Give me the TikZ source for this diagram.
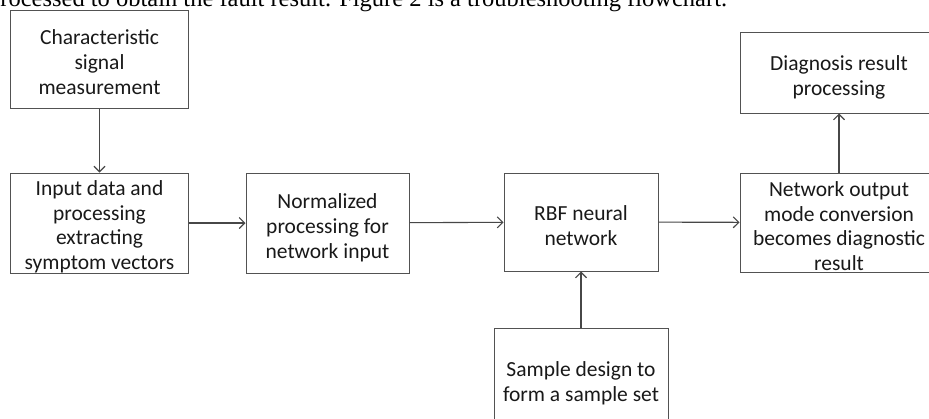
\documentclass[tikz,border=0pt]{standalone}
\usepackage{fontspec}
\setmainfont{Carlito}
\newfontfamily\capserif{Liberation Serif}
\usetikzlibrary{arrows.meta}
\newcommand\tstr{\rule{0pt}{27pt}}
\newcommand\tstrb{\rule{0pt}{22pt}}
\newcommand\bstr{\rule[-6pt]{0pt}{6pt}}
\begin{document}
\begin{tikzpicture}[x=1pt,y=-1pt,
  box/.style={draw=black!68, line width=1pt, fill=white, align=center,
    inner sep=0pt, font=\fontsize{21.5}{25}\selectfont, text=black!90},
  tight/.style={font=\fontsize{21.5}{24.5}\selectfont},
  conn/.style={draw=black!72, line width=1.1pt,
    -{Straight Barb[length=5.5pt,width=11pt,line width=1.1pt]}}]
\useasboundingbox (0,0) rectangle (929,418);
\clip (0,0) rectangle (929,418);
\fill[white] (0,0) rectangle (929,418);
\node[anchor=base west, inner sep=0pt, font=\capserif\fontsize{24.5}{30}\selectfont] (cap) at (-12,6)
  {processed to obtain the fault result. Figure 2 is a troubleshooting flowchart.};
\node[box, minimum width=178pt, minimum height=98pt] (b1) at (99.5,59) {\tstr Characteristic\\signal\\measurement\bstr};
\node[box, tight, minimum width=178pt, minimum height=100pt] (b2) at (99.5,223) {\tstrb Input data and\\processing\\extracting\\symptom vectors};
\node[box, minimum width=163pt, minimum height=100pt] (b3) at (327.5,223) {\tstr Normalized\\processing for\\network input\bstr};
\node[box, minimum width=154pt, minimum height=98pt] (b4) at (581,222) {\tstr RBF neural\\network\bstr};
\node[box, tight, minimum width=198pt, minimum height=99pt] (b5) at (839,222.5) {\tstrb Network output\\mode conversion\\becomes diagnostic\\result};
\node[box, minimum width=198pt, minimum height=81pt] (b6) at (839,72.5) {\tstr Diagnosis result\\processing\bstr};
\node[box, minimum width=174pt, minimum height=100pt] (b7) at (581,378) {\tstr Sample design to\\form a sample set\bstr};
\draw[conn] (b1) -- (b2);
\draw[conn] (b2) -- (b3);
\draw[conn] (b3) -- (b4);
\draw[conn] (b4) -- (b5);
\draw[conn] (b5) -- (b6);
\draw[conn] (b7) -- (b4);
\end{tikzpicture}
\end{document}
